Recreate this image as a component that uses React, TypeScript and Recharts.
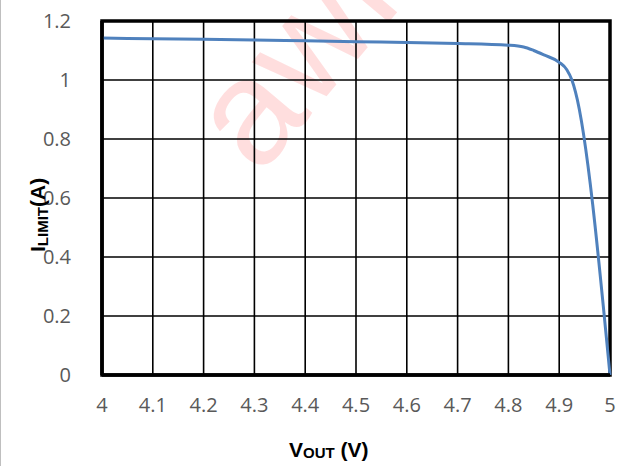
import { LineChart, Line, XAxis, YAxis, CartesianGrid, ReferenceArea } from 'recharts';

const vout = [4, 4.1, 4.2, 4.3, 4.4, 4.5, 4.6, 4.7, 4.8, 4.83, 4.85, 4.87, 4.9, 4.915, 4.925, 4.932, 5];
const ilimit = [1.142, 1.14, 1.138, 1.136, 1.133, 1.13, 1.127, 1.124, 1.118, 1.112, 1.1, 1.085, 1.06, 1.035, 1.0, 0.96, 0];
const xTicks = [4, 4.1, 4.2, 4.3, 4.4, 4.5, 4.6, 4.7, 4.8, 4.9, 5];
const yTicks = [0, 0.2, 0.4, 0.6, 0.8, 1, 1.2];

const data = vout.map((v, i) => ({ v, i: ilimit[i] }));

const fmt = (n: number) => String(Number(n.toFixed(1)));
const tickStyle = { fill: '#595959', fontSize: 20, fontFamily: '"Open Sans", sans-serif' };
const labelFont = '"Liberation Sans", Arial, sans-serif';

export default function App() {
  return (
    <div
      style={{
        position: 'absolute',
        left: 0,
        top: 0,
        width: 622,
        height: 466,
        overflow: 'hidden',
        background: '#fff',
        borderLeft: '1px solid #bfbfbf',
        boxSizing: 'border-box',
      }}
    >
      {/* faint watermark behind the chart */}
      <svg width={622} height={466} style={{ position: 'absolute', left: 0, top: 0 }}>
        <text
          x={258}
          y={177}
          transform="rotate(-50 258 177)"
          fontSize={150}
          fontFamily={labelFont}
          fill="#ff0000"
          fillOpacity={0.13}
        >
          awinic
        </text>
      </svg>
      <div style={{ position: 'absolute', left: -1, top: 0 }}>
        <LineChart width={622} height={466} data={data} margin={{ top: 21, right: 12, left: 0, bottom: 0 }}>
          <CartesianGrid stroke="#000" strokeWidth={1.6} horizontalValues={yTicks} verticalValues={xTicks} />
          <XAxis
            dataKey="v"
            type="number"
            domain={[4, 5]}
            ticks={xTicks}
            tickFormatter={fmt}
            height={91}
            tickSize={0}
            tickMargin={23}
            tick={tickStyle}
            axisLine={{ stroke: '#000', strokeWidth: 3.5 }}
          />
          <YAxis
            type="number"
            domain={[0, 1.2]}
            ticks={yTicks}
            tickFormatter={fmt}
            width={102}
            tickSize={0}
            tickMargin={31}
            tick={tickStyle}
            axisLine={{ stroke: '#000', strokeWidth: 3.5 }}
          />
          <ReferenceArea x1={4} x2={5} y1={0} y2={1.2} fill="none" stroke="#000" strokeWidth={3.5} ifOverflow="visible" />
          <Line
            type="monotone"
            dataKey="i"
            stroke="#4f81bd"
            strokeWidth={3}
            dot={false}
            isAnimationActive={false}
          />
        </LineChart>
      </div>
      {/* axis titles */}
      <svg width={622} height={466} style={{ position: 'absolute', left: 0, top: 0, pointerEvents: 'none' }}>
        <text
          x={44}
          y={252}
          transform="rotate(-90 44 252)"
          fontFamily={labelFont}
          fontWeight="bold"
          fill="#000"
          fontSize={21}
        >
          I
          <tspan fontSize={15} dy={3}>LIMIT</tspan>
          <tspan dy={-3}>(A)</tspan>
        </text>
        <text x={288} y={457} fontFamily={labelFont} fontWeight="bold" fill="#000" fontSize={21}>
          V
          <tspan fontSize={15} dy={1}>OUT</tspan>
          <tspan dy={-1}> (V)</tspan>
        </text>
      </svg>
    </div>
  );
}
